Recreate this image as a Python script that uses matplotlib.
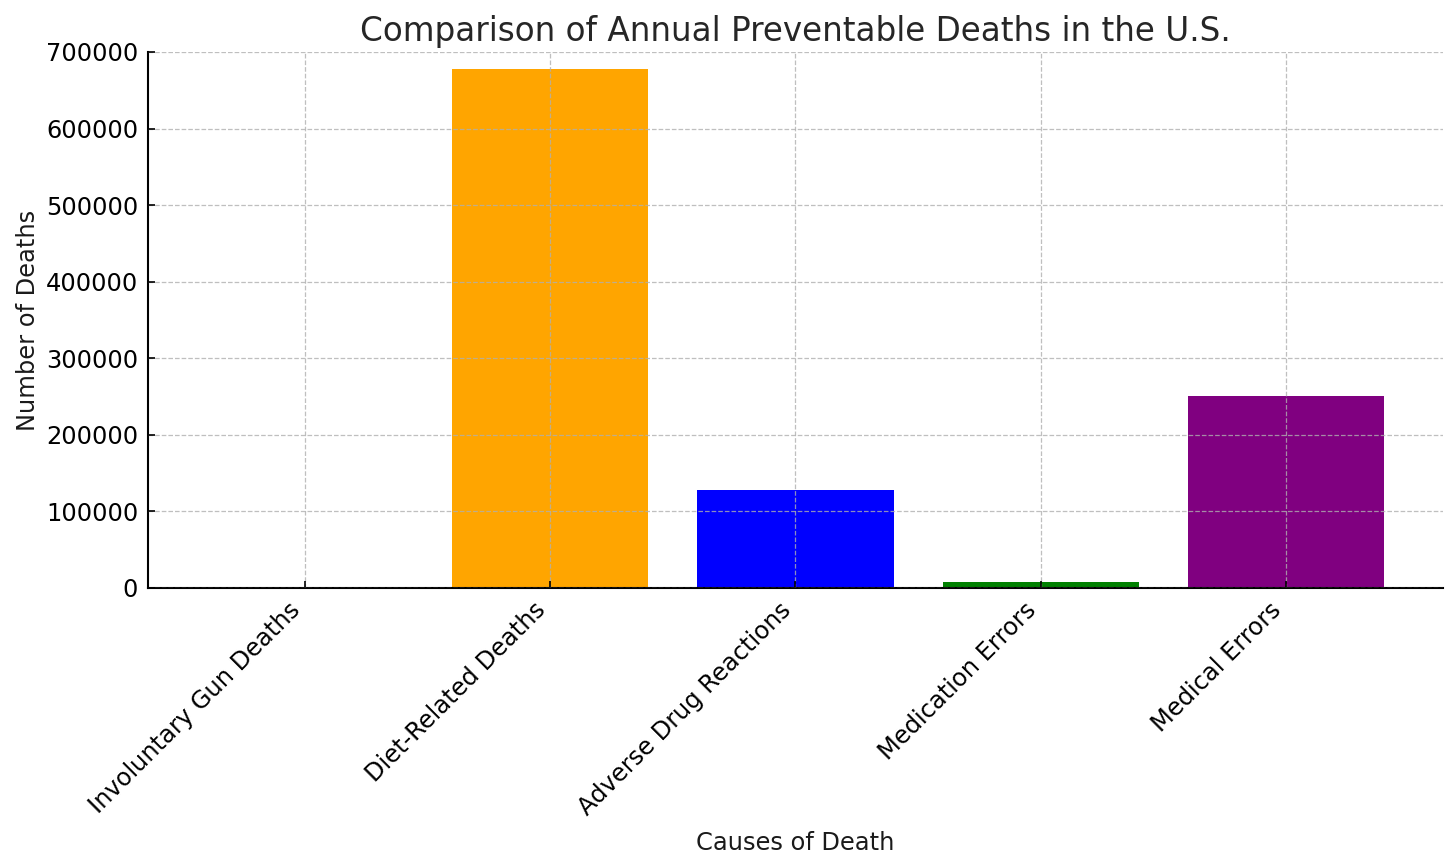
import matplotlib
matplotlib.use("Agg")
import matplotlib.pyplot as plt

categories = ["Involuntary Gun Deaths", "Diet-Related Deaths", "Adverse Drug Reactions",
              "Medication Errors", "Medical Errors"]
deaths = [500, 678000, 128000, 7500, 251000]
colors = ["red", "orange", "blue", "green", "purple"]

fig = plt.figure(figsize=(14.56, 8.68), dpi=100)
ax = fig.add_axes([0.1016, 0.3226, 0.8895, 0.6175])

ax.bar(categories, deaths, color=colors, width=0.8, zorder=1)
ax.set_ylim(0, 700000)
ax.set_axisbelow(False)
ax.grid(True, linestyle="--", color="#b0b0b0", linewidth=0.9, alpha=0.8, zorder=2)

ax.set_title("Comparison of Annual Preventable Deaths in the U.S.", fontsize=23.5, color="#262626", pad=8)
ax.set_xlabel("Causes of Death", fontsize=17.4, color="#1a1a1a", labelpad=8)
ax.set_ylabel("Number of Deaths", fontsize=17.4, color="#1a1a1a", labelpad=4)

ax.tick_params(axis="both", direction="in", labelsize=17.4, length=5, width=1.2, colors="black", pad=7)
plt.setp(ax.get_xticklabels(), rotation=45, ha="right")
ax.ticklabel_format(axis="y", style="plain")

for s in ["top", "right"]:
    ax.spines[s].set_visible(False)
for s in ["left", "bottom"]:
    ax.spines[s].set_linewidth(1.5)

fig.savefig("out.png", dpi=100)
